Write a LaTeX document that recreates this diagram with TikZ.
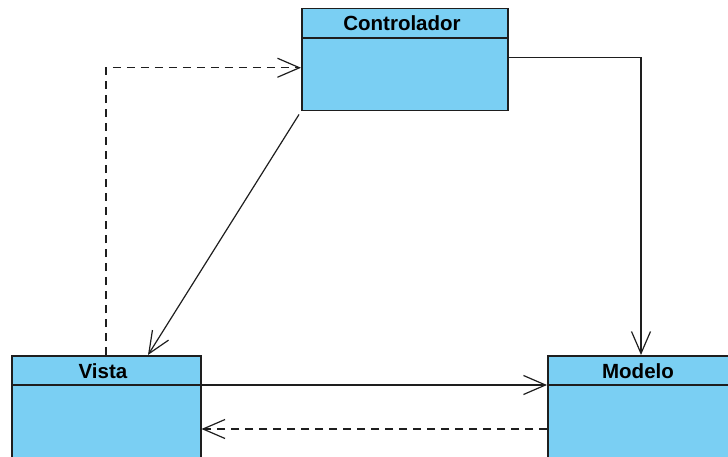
\documentclass[tikz,border=0pt]{standalone}
\usepackage{fontspec}
\setmainfont{Liberation Sans}
\usetikzlibrary{arrows.meta,calc}
\definecolor{classfill}{RGB}{122,207,243}
\definecolor{edge}{RGB}{30,30,30}
\tikzset{
  classbox/.style={draw=edge, line width=1.5pt, fill=classfill, rectangle, inner sep=0pt, anchor=north west},
  classname/.style={font=\fontsize{20.5}{22}\selectfont\bfseries, inner sep=0pt},
  link/.style={draw=edge, line width=1.2pt, -{Straight Barb[length=22pt,width=19pt,line width=1.2pt]}},
  dep/.style={link, dash pattern=on 8pt off 6pt},
}
\begin{document}
\begin{tikzpicture}[x=1pt,y=-1pt]
\useasboundingbox (0,0) rectangle (728,457);
\clip (0,0) rectangle (728,457);

% classes
\node[classbox, minimum width=206pt, minimum height=102pt] (ctrl) at (301,8) {};
\node[classbox, minimum width=189pt, minimum height=120pt] (vista) at (11,355) {};
\node[classbox, minimum width=200pt, minimum height=120pt] (modelo) at (547,355) {};

% header separators
\draw[draw=edge, line width=1.5pt] ([yshift=-30pt]ctrl.north west) -- ([yshift=-30pt]ctrl.north east);
\draw[draw=edge, line width=1.5pt] ([yshift=-30pt]vista.north west) -- ([yshift=-30pt]vista.north east);
\draw[draw=edge, line width=1.5pt] ([yshift=-30pt]modelo.north west) -- ([yshift=-30pt]modelo.north east);

% class names
\node[classname] (ctrlname) at (402,23) {Controlador};
\node[classname] (vistaname) at (103,371) {Vista};
\node[classname] (modeloname) at (638,371) {Modelo};

% relations
\draw[dep] ([xshift=95pt]vista.north west) |- ([yshift=-8pt]ctrl.west);
\draw[link] ([xshift=-2pt,yshift=-3pt]ctrl.south west) -- ([xshift=137pt]vista.north west);
\draw[link] ([yshift=2pt]ctrl.east) -| ([xshift=94pt]modelo.north west);
\draw[link] ([yshift=-30pt]vista.north east) -- ([yshift=-30pt]modelo.north west);
\draw[dep] ([yshift=-74pt]modelo.north west) -- ([yshift=-74pt]vista.north east);
\end{tikzpicture}
\end{document}
